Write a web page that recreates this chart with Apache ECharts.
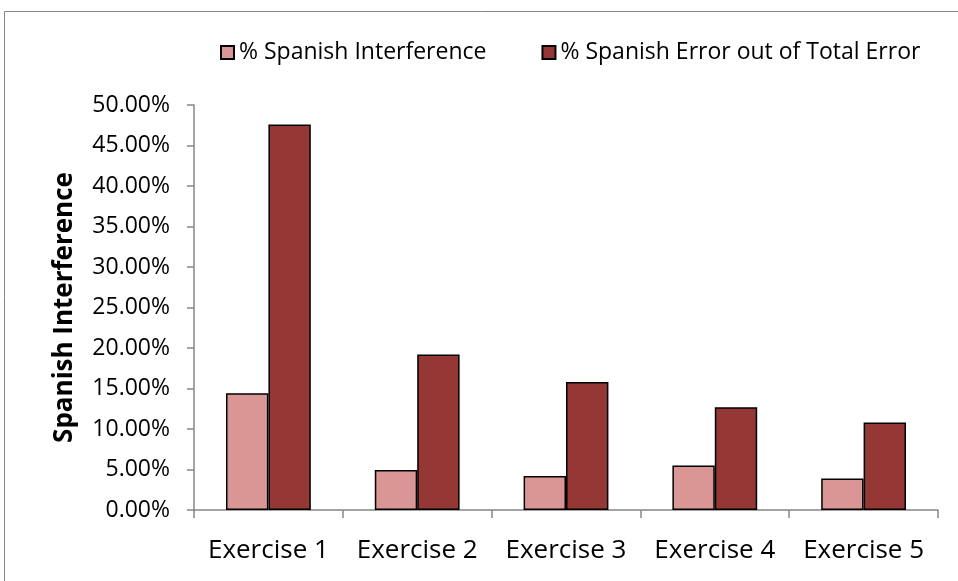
<!DOCTYPE html>
<html>
<head>
<meta charset="utf-8">
<script src="https://cdn.jsdelivr.net/npm/echarts@6/dist/echarts.min.js"></script>
<style>
  html, body { margin: 0; padding: 0; background: #fff; }
  #chart { width: 958px; height: 581px; }
</style>
</head>
<body>
<div id="chart"></div>
<script>
// data
var categories = ['Exercise 1', 'Exercise 2', 'Exercise 3', 'Exercise 4', 'Exercise 5'];
var interference = [14.4, 4.95, 4.2, 5.5, 3.9];
var errorShare = [47.6, 19.2, 15.8, 12.7, 10.8];
var seriesNames = ['% Spanish Interference', '% Spanish Error out of Total Error'];

var font = '"Open Sans", "Noto Sans", sans-serif';
var chart = echarts.init(document.getElementById('chart'));

chart.setOption({
  animation: false,
  graphic: [{
    type: 'rect',
    shape: { x: 4.5, y: 11.5, width: 980, height: 600 },
    style: { fill: 'none', stroke: '#868686', lineWidth: 1 }
  }],
  legend: {
    data: seriesNames,
    top: 36,
    left: 215,
    itemWidth: 13,
    itemHeight: 13,
    itemGap: 55,
    icon: 'rect',
    textStyle: { fontFamily: font, fontSize: 23, color: '#000' }
  },
  grid: { left: 194, right: 20, top: 105, bottom: 71 },
  xAxis: {
    type: 'category',
    data: categories,
    axisLine: { lineStyle: { color: '#868686', width: 1.5 } },
    axisTick: { show: true, length: 8, lineStyle: { color: '#868686', width: 1.5 } },
    axisLabel: { interval: 0, fontFamily: font, fontSize: 26, color: '#000', margin: 28 }
  },
  yAxis: {
    type: 'value',
    min: 0,
    max: 50,
    interval: 5,
    name: 'Spanish Interference',
    nameLocation: 'middle',
    nameGap: 116,
    nameTextStyle: { fontFamily: font, fontSize: 26, fontWeight: 'bold', color: '#000' },
    axisLine: { show: true, lineStyle: { color: '#868686', width: 1.5 } },
    axisTick: { show: true, length: 7, lineStyle: { color: '#868686', width: 1.5 } },
    splitLine: { show: false },
    axisLabel: {
      fontFamily: font, fontSize: 23, color: '#000', margin: 24,
      formatter: function (v) { return v.toFixed(2) + '%'; }
    }
  },
  series: [{
    name: seriesNames[0],
    type: 'bar',
    data: interference,
    barGap: '0%',
    barCategoryGap: '43%',
    itemStyle: { color: '#D99694', borderColor: '#000', borderWidth: 1.5 }
  }, {
    name: seriesNames[1],
    type: 'bar',
    data: errorShare,
    itemStyle: { color: '#953735', borderColor: '#000', borderWidth: 1.5 }
  }]
});
</script>
</body>
</html>
